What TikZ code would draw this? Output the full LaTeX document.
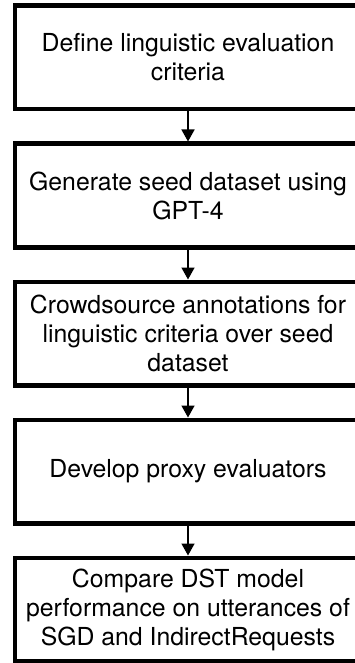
\documentclass[tikz,border=0pt]{standalone}
\usepackage{fontspec}
\setmainfont{TeX Gyre Heros}
\usepackage{tikz}
\usetikzlibrary{arrows.meta, positioning}

\begin{document}
\begin{tikzpicture}[x=1pt, y=-1pt,
  stepbox/.style={draw, line width=4.5pt, rectangle, minimum width=346pt, minimum height=103.5pt,
    align=center, inner sep=0pt, font=\fontsize{24.8}{29}\selectfont},
  flow/.style={-{Stealth[length=12pt, width=13pt, inset=0pt]}, line width=1.5pt}]
\useasboundingbox (0,0) rectangle (354,663);
\node[stepbox] (define) at (188,57.5) {Define linguistic evaluation\\criteria};
\node[stepbox] (seed) at (188,195.5) {Generate seed dataset using\\GPT-4};
\node[stepbox] (crowd) at (188,333.5) {Crowdsource annotations for\\linguistic criteria over seed\\dataset};
\node[stepbox] (proxy) at (188,471.5) {Develop proxy evaluators};
\node[stepbox] (compare) at (188,609.5) {Compare DST model\\performance on utterances of\\SGD and IndirectRequests};
\draw[flow] (define) -- (seed);
\draw[flow] (seed) -- (crowd);
\draw[flow] (crowd) -- (proxy);
\draw[flow] (proxy) -- (compare);
\end{tikzpicture}
\end{document}
